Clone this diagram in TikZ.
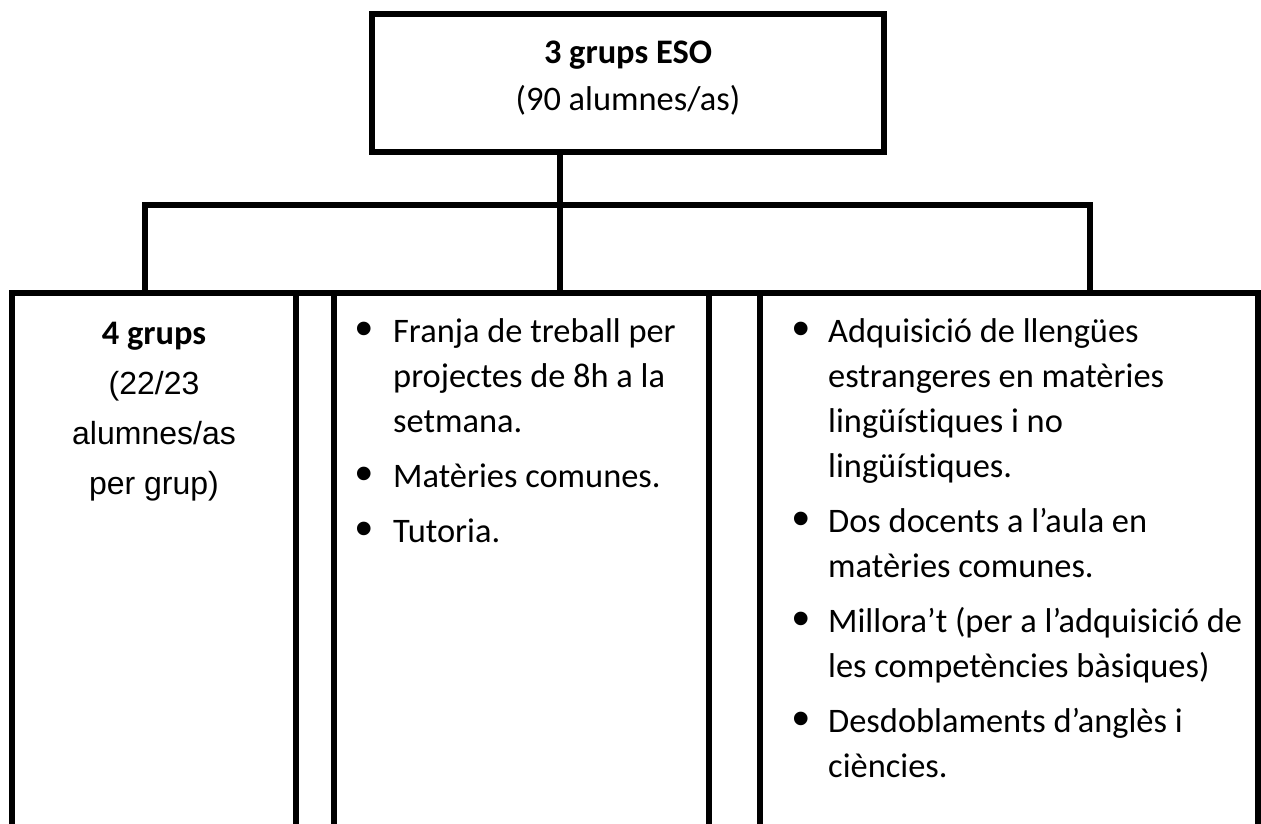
\documentclass[tikz,border=0pt]{standalone}
\usepackage{fontspec}
\setmainfont{Carlito}[Ligatures={NoCommon}]
\newfontfamily\arialf{Liberation Sans}
\newfontfamily\bulf{Liberation Sans}
\tikzset{
  frame/.style={draw, line width=6pt, inner sep=0pt, outer sep=0pt},
  link/.style={line width=6pt},
  cal/.style={font=\fontsize{34.4}{45}\selectfont, inner sep=0pt, anchor=base west},
  calb/.style={font=\fontsize{34.4}{45}\selectfont\bfseries, inner sep=0pt, anchor=base},
  ari/.style={font=\arialf\fontsize{32}{50}\selectfont, inner sep=0pt, anchor=base},
  bul/.style={font=\bulf\fontsize{50}{50}\selectfont, inner sep=0pt, anchor=base}
}
\begin{document}
\begin{tikzpicture}[x=1pt,y=-1pt]
\useasboundingbox (0,0) rectangle (1261,823);
% top box
\node[frame, minimum width=512pt, minimum height=138pt] (top) at (628,83) {};
\node[calb] (t1) at (628,63) {3 grups ESO};
\node[cal, anchor=base] (t2) at (628,110) {(90 alumnes/as)};
% bottom columns
\node[frame, minimum width=284pt, minimum height=600pt, anchor=north west] (c1) at (12,293) {};
\node[frame, minimum width=38pt, minimum height=600pt, anchor=north west] (c2) at (296,293) {};
\node[frame, minimum width=375pt, minimum height=600pt, anchor=north west] (c3) at (334,293) {};
\node[frame, minimum width=51pt, minimum height=600pt, anchor=north west] (c4) at (709,293) {};
\node[frame, minimum width=498pt, minimum height=600pt, anchor=north west] (c5) at (760,293) {};
% connectors
\coordinate (bus) at (560,205);
\coordinate (bl) at (145,205);
\coordinate (br) at (1090,205);
\draw[link] (top.south -| bus) -- (bus |- c3.north);
\draw[link] (bl |- c1.north) -- (bl) -- (br) -- (br |- c5.north);
% left column
\node[calb] (l1) at (154,344) {4 grups};
\node[ari] (l2) at (154,394) {(22/23};
\node[ari] (l3) at (154,444) {alumnes/as};
\node[ari] (l4) at (154,494) {per grup)};
% middle column
\node[bul] (mb1) at (364,345) {\textbullet};
\node[cal] (m1a) at (393,342) {Franja de treball per};
\node[cal] (m1b) at (393,387) {projectes de 8h a la};
\node[cal] (m1c) at (393,432) {setmana.};
\node[bul] (mb2) at (364,490) {\textbullet};
\node[cal] (m2a) at (393,487) {Matèries comunes.};
\node[bul] (mb3) at (364,545) {\textbullet};
\node[cal] (m3a) at (393,542) {Tutoria.};
% right column
\node[bul] (rb1) at (801,345) {\textbullet};
\node[cal] (r1a) at (828,342) {Adquisició de llengües};
\node[cal] (r1b) at (828,387) {estrangeres en matèries};
\node[cal] (r1c) at (828,432) {lingüístiques i no};
\node[cal] (r1d) at (828,477) {lingüístiques.};
\node[bul] (rb2) at (801,535) {\textbullet};
\node[cal] (r2a) at (828,532) {Dos docents a l’aula en};
\node[cal] (r2b) at (828,577) {matèries comunes.};
\node[bul] (rb3) at (801,635) {\textbullet};
\node[cal] (r3a) at (828,632) {Millora’t (per a l’adquisició de};
\node[cal] (r3b) at (828,677) {les competències bàsiques)};
\node[bul] (rb4) at (801,735) {\textbullet};
\node[cal] (r4a) at (828,732) {Desdoblaments d’anglès i};
\node[cal] (r4b) at (828,777) {ciències.};
\end{tikzpicture}
\end{document}
